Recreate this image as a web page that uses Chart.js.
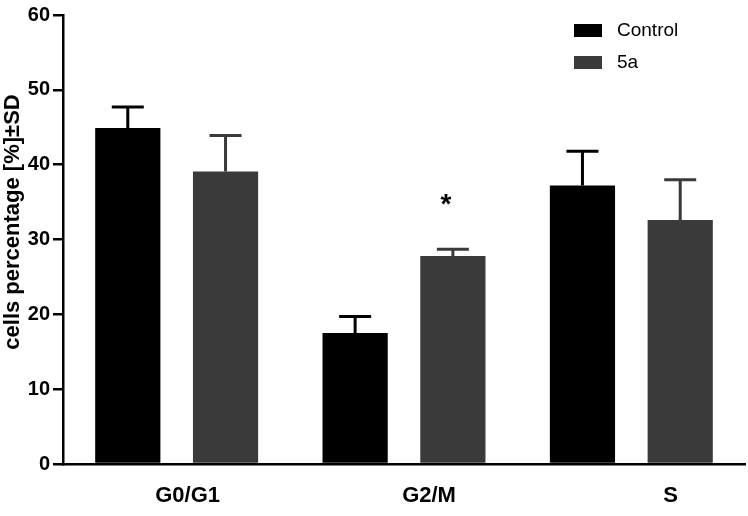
<!DOCTYPE html>
<html>
<head>
<meta charset="UTF-8">
<title>Cell cycle</title>
<script src="https://cdn.jsdelivr.net/npm/chart.js@4"></script>
<style>
  body { margin: 0; background: #fff; }
  #wrap { width: 748px; height: 516px; }
</style>
</head>
<body>
<div id="wrap"><canvas id="canvas" width="748" height="516"></canvas></div>
<script>
var phases = ['G0/G1', 'G2/M', 'S'];
var controlMean = [44.9, 17.5, 37.2];
var controlSD = [2.8, 2.2, 4.6];
var treatedMean = [39.1, 27.8, 32.6];
var treatedSD = [4.8, 0.9, 5.4];
var treatedMark = ['', '*', ''];
var yTicks = [0, 10, 20, 30, 40, 50, 60];
var yTitle = 'cells percentage [%]±SD';

var sdList = [controlSD, treatedSD];
var markList = [null, treatedMark];
var FONT = '"Liberation Sans", Arial, sans-serif';

// error bars (upper only) + significance stars
var errorBars = {
  id: 'errorBars',
  afterDatasetsDraw: function(chart) {
    var ctx = chart.ctx, y = chart.scales.y;
    chart.data.datasets.forEach(function(ds, i) {
      var meta = chart.getDatasetMeta(i);
      meta.data.forEach(function(bar, j) {
        var top = y.getPixelForValue(ds.data[j] + sdList[i][j]);
        ctx.save();
        ctx.strokeStyle = ds.backgroundColor;
        ctx.lineWidth = 3;
        ctx.beginPath();
        ctx.moveTo(bar.x, bar.y);
        ctx.lineTo(bar.x, top);
        ctx.moveTo(bar.x - 16, top);
        ctx.lineTo(bar.x + 16, top);
        ctx.stroke();
        if (markList[i] && markList[i][j]) {
          ctx.fillStyle = '#000';
          ctx.font = 'bold 28px ' + FONT;
          ctx.textAlign = 'center';
          ctx.textBaseline = 'middle';
          ctx.fillText(markList[i][j], bar.x - 7, top - 44);
        }
        ctx.restore();
      });
    });
  }
};

// legend, category labels and y title drawn by hand
var decorations = {
  id: 'decorations',
  afterDraw: function(chart) {
    var ctx = chart.ctx, x = chart.scales.x;
    ctx.save();
    chart.data.datasets.forEach(function(ds, i) {
      var yy = 24 + i * 32;
      ctx.fillStyle = ds.backgroundColor;
      ctx.fillRect(574, yy, 28, 13);
      ctx.fillStyle = '#000';
      ctx.font = '19px ' + FONT;
      ctx.textAlign = 'left';
      ctx.textBaseline = 'middle';
      ctx.fillText(ds.label, 617, yy + 7);
    });
    ctx.font = 'bold 22px ' + FONT;
    ctx.textAlign = 'center';
    ctx.textBaseline = 'middle';
    phases.forEach(function(p, i) {
      ctx.fillText(p, x.getPixelForValue(i) * 1.062, 496);
    });
    ctx.translate(19, 222);
    ctx.rotate(-Math.PI / 2);
    ctx.textBaseline = 'alphabetic';
    ctx.fillText(yTitle, 0, 0);
    ctx.restore();
  }
};

new Chart(document.getElementById('canvas'), {
  type: 'bar',
  data: {
    labels: phases,
    datasets: [
      { label: 'Control', data: controlMean, backgroundColor: '#000000' },
      { label: '5a', data: treatedMean, backgroundColor: '#3a3a3a' }
    ]
  },
  options: {
    responsive: false,
    animation: false,
    datasets: { bar: { categoryPercentage: 0.86, barPercentage: 0.667 } },
    layout: { padding: { top: 13, right: 3, left: 0, bottom: 0 } },
    plugins: { legend: { display: false }, tooltip: { enabled: false } },
    scales: {
      x: {
        grid: { display: false },
        border: { display: true, color: '#000', width: 2.5 },
        ticks: { display: false },
        afterFit: function(s) { s.height = 52; }
      },
      y: {
        min: 0,
        max: 60,
        afterBuildTicks: function(s) { s.ticks = yTicks.map(function(v) { return { value: v }; }); },
        grid: { drawOnChartArea: false, tickLength: 10, tickColor: '#000', lineWidth: 2.5 },
        border: { display: true, color: '#000', width: 2.5 },
        ticks: {
          color: '#000',
          padding: 3,
          font: { family: FONT, size: 20, weight: 'bold' }
        },
        afterFit: function(s) { s.width = 63; }
      }
    }
  },
  plugins: [errorBars, decorations]
});
</script>
</body>
</html>
